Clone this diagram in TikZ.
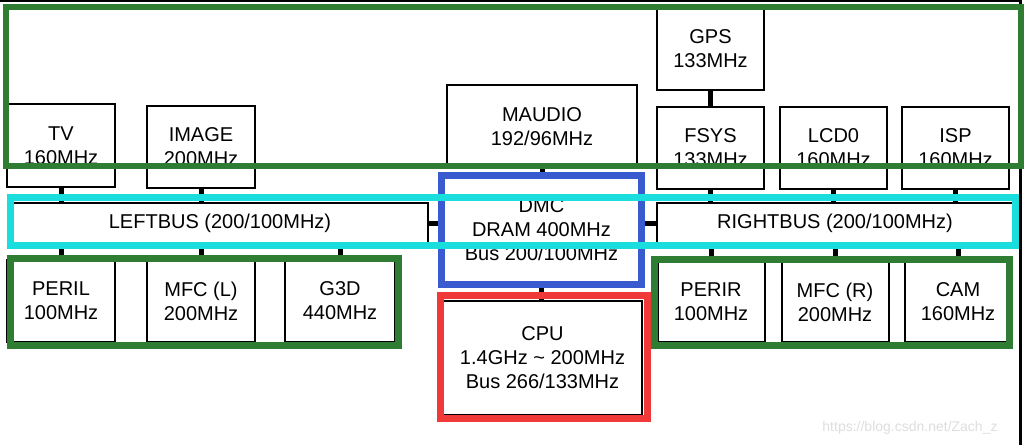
\documentclass[tikz,border=0pt]{standalone}
\usepackage{fontspec}
\setmainfont{Liberation Sans}
\definecolor{hlgreen}{RGB}{46,125,50}
\definecolor{hlcyan}{RGB}{26,222,222}
\definecolor{hlblue}{RGB}{58,91,208}
\definecolor{hlred}{RGB}{240,58,58}
\begin{document}
\begin{tikzpicture}[x=1pt,y=-1pt,
  box/.style={draw=black,line width=2pt,fill=white,inner sep=0pt,align=center,
    font=\fontsize{20}{24}\selectfont},
  conn/.style={draw=black,line width=5pt},
  hl/.style={line width=7pt}]
\useasboundingbox (0,0) rectangle (1024,445);
\fill[white] (0,0) rectangle (1024,445);
% frame lines of the original image
\draw[black,line width=2.5pt] (0,1.2) -- (1022,1.2);
\draw[black,line width=2.5pt] (1020.5,0) -- (1020.5,445);
% nodes
\node[box,minimum width=108pt,minimum height=83pt] (TV) at (61,145.5) {TV\\160MHz};
\node[box,minimum width=108pt,minimum height=82pt] (IMAGE) at (201,147) {IMAGE\\200MHz};
\node[box,minimum width=190pt,minimum height=83pt] (MAUDIO) at (542,126.5) {MAUDIO\\192/96MHz};
\node[box,minimum width=107pt,minimum height=82pt] (GPS) at (710.5,49) {GPS\\133MHz};
\node[box,minimum width=107pt,minimum height=82pt] (FSYS) at (710.5,148) {FSYS\\133MHz};
\node[box,minimum width=107pt,minimum height=82pt] (LCD) at (833.5,148) {LCD0\\160MHz};
\node[box,minimum width=107pt,minimum height=82pt] (ISP) at (955.5,148) {ISP\\160MHz};
\node[box,minimum width=416pt,minimum height=40pt] (LB) at (220,223) {LEFTBUS (200/100MHz)};
\node[box,minimum width=356pt,minimum height=40pt] (RB) at (835,223) {RIGHTBUS (200/100MHz)};
\node[box,minimum width=199pt,minimum height=109pt] (DMC) at (541.5,229.5) {DMC\\DRAM 400MHz\\Bus 200/100MHz};
\node[box,minimum width=199pt,minimum height=114pt] (CPU) at (542.5,358) {CPU\\1.4GHz \textasciitilde{} 200MHz\\Bus 266/133MHz};
\node[box,minimum width=108pt,minimum height=82pt] (PERIL) at (61,301) {PERIL\\100MHz};
\node[box,minimum width=108pt,minimum height=82pt] (MFCL) at (201,301) {MFC (L)\\200MHz};
\node[box,minimum width=110pt,minimum height=82pt] (G3D) at (340,301) {G3D\\440MHz};
\node[box,minimum width=107pt,minimum height=80pt] (PERIR) at (711,302) {PERIR\\100MHz};
\node[box,minimum width=107pt,minimum height=80pt] (MFCR) at (835,302) {MFC (R)\\200MHz};
\node[box,minimum width=107pt,minimum height=80pt] (CAM) at (958,302) {CAM\\160MHz};
% connectors
\draw[conn] (TV.south) -- (TV.south |- LB.north);
\draw[conn] (IMAGE.south) -- (IMAGE.south |- LB.north);
\draw[conn] (PERIL.north) -- (PERIL.north |- LB.south);
\draw[conn] (MFCL.north) -- (MFCL.north |- LB.south);
\draw[conn] (G3D.north) -- (G3D.north |- LB.south);
\draw[conn] (GPS.south) -- (GPS.south |- FSYS.north);
\draw[conn] (FSYS.south) -- (FSYS.south |- RB.north);
\draw[conn] (LCD.south) -- (LCD.south |- RB.north);
\draw[conn] (ISP.south) -- (ISP.south |- RB.north);
\draw[conn] (PERIR.north) -- (PERIR.north |- RB.south);
\draw[conn] (MFCR.north) -- (MFCR.north |- RB.south);
\draw[conn] (CAM.north) -- (CAM.north |- RB.south);
\draw[conn] (MAUDIO.south) -- (MAUDIO.south |- DMC.north);
\draw[conn] (DMC.south) -- (DMC.south |- CPU.north);
\draw[conn] (LB.east) -- (DMC.west |- LB.east);
\draw[conn] (RB.west) -- (DMC.east |- RB.west);
% highlight frames
\draw[hl,hlgreen,line width=6pt] (6,7) rectangle (1021,166);
\draw[hl,hlblue] (441,175) rectangle (641,284);
\draw[hl,hlred] (440,295.5) rectangle (647,418.5);
\draw[hl,hlgreen] (10.5,258.5) rectangle (398.5,345.5);
\draw[hl,hlgreen] (654.5,259.5) rectangle (1009.5,345.5);
\draw[hl,hlcyan] (10.5,197.5) rectangle (1015.5,245.5);
% watermark
\node[font=\fontsize{14}{16}\selectfont,text=black!13,inner sep=0pt] (wm) at (910,428) {https://blog.csdn.net/Zach\_z};
\end{tikzpicture}
\end{document}
